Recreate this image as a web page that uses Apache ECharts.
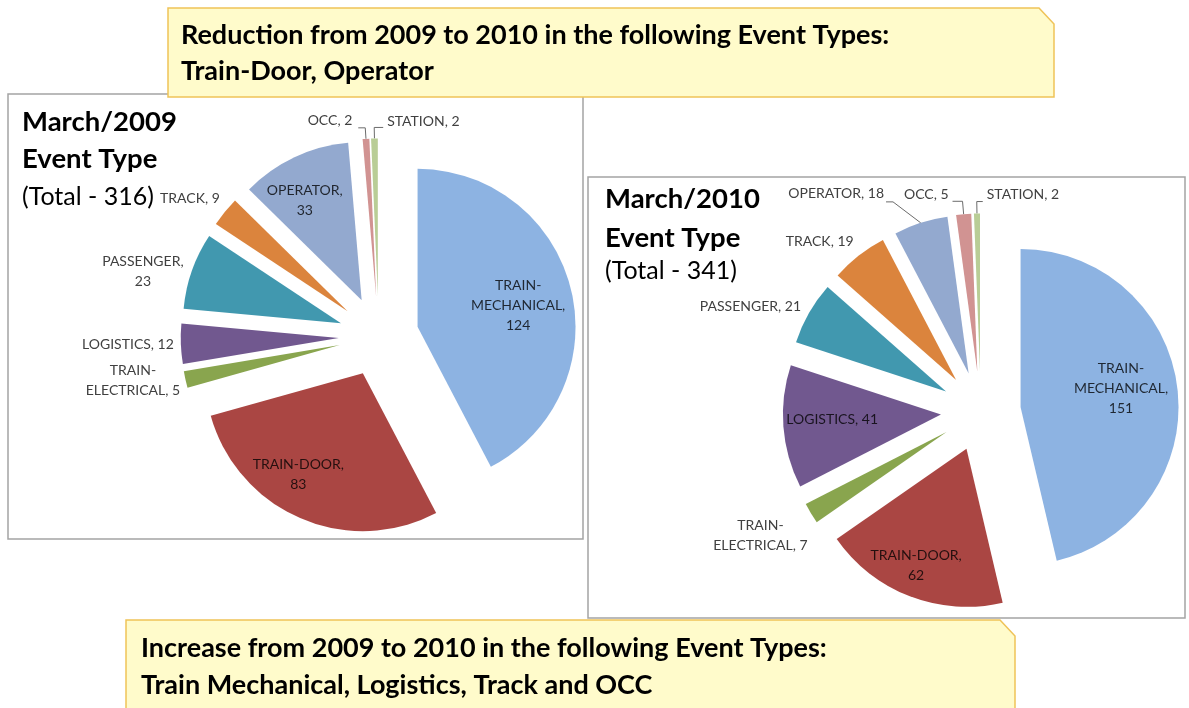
<!DOCTYPE html>
<html><head><meta charset="utf-8">
<script src="https://cdn.jsdelivr.net/npm/echarts@6/dist/echarts.min.js"></script>
<style>html,body{margin:0;padding:0;background:#fff}#chart{width:1189px;height:708px}</style>
</head><body><div id="chart"></div>
<script>
// ---------------- data ----------------
const categories = ['TRAIN-MECHANICAL','TRAIN-DOOR','TRAIN-ELECTRICAL','LOGISTICS','PASSENGER','TRACK','OPERATOR','OCC','STATION'];
const values2009 = [124, 83, 5, 12, 23, 9, 33, 2, 2];
const values2010 = [151, 62, 7, 41, 21, 19, 18, 5, 2];
const chartTitles = ['March/2009', 'March/2010'];
const chartSubtitle = 'Event Type';
const chartTotals = [316, 341];
const noteReduction = ['Reduction from 2009 to 2010 in the following Event Types:', 'Train-Door, Operator'];
const noteIncrease = ['Increase from 2009 to 2010 in the following Event Types:', 'Train Mechanical, Logistics, Track and OCC'];

// ---------------- styles ----------------
const colors = ['#8DB3E2','#AA4643','#89A54E','#71588F','#4198AF','#DB843D','#93A9CF','#D19392','#B9CD96'];
const LABEL_FONT = 'Lato';
const LABEL_SIZE = 14;
const LABEL_LH = 20;

// label placement style per slice: pos in/out, line break mode, leader line [len,len2], nudge [dx,dy]
const labelCfg2009 = [
  {pos:'in',  brk:'both',   nudge:[21,-2]},
  {pos:'in',  brk:'value',  nudge:[-32,26]},
  {pos:'out', brk:'hyphen', nudge:[0,1]},
  {pos:'out', brk:'none',   nudge:[-2,1]},
  {pos:'out', brk:'value',  nudge:[-3,1]},
  {pos:'out', brk:'none',   nudge:[0,-13]},
  {pos:'in',  brk:'value',  nudge:[-22,-26]},
  {pos:'out', brk:'none',   line:[11,7], nudge:[-1,-7]},
  {pos:'out', brk:'none',   line:[11,9], flip:true, nudge:[-1,-6]}
];
const labelCfg2010 = [
  {pos:'in',  brk:'both',   nudge:[19,-9]},
  {pos:'in',  brk:'value',  nudge:[-21,40]},
  {pos:'out', brk:'hyphen', nudge:[2,22]},
  {pos:'in',  brk:'none',   nudge:[-27,-1]},
  {pos:'out', brk:'none',   nudge:[-3,-7]},
  {pos:'out', brk:'none',   nudge:[0,-14]},
  {pos:'out', brk:'none',   line:[22,28], diag:7, nudge:[3,-8]},
  {pos:'out', brk:'none',   line:[13,10], nudge:[1,-7]},
  {pos:'out', brk:'none',   line:[12,6], flip:true, nudge:[-1,-7]}
];

const measureCtx = document.createElement('canvas').getContext('2d');
function textWidth(s, font) { measureCtx.font = font; return Math.ceil(measureCtx.measureText(s).width); }

function labelText(name, value, brk) {
  let head = name, sep = ' ';
  if (brk === 'hyphen' || brk === 'both') head = name.replace('-', '-\n');
  if (brk === 'value' || brk === 'both') sep = '\n';
  return head + ',' + sep + value;
}

function layoutLabel(p, cfg) {
  const r = p.labelRect;
  const ax = p.align === 'right' ? r.x + r.width : (p.align === 'center' ? r.x + r.width / 2 : r.x);
  const ay = p.verticalAlign === 'top' ? r.y : (p.verticalAlign === 'bottom' ? r.y + r.height : r.y + r.height / 2);
  const out = { x: ax + cfg.nudge[0], y: ay + cfg.nudge[1] };
  if (cfg.line && p.labelLinePoints) {
    const pts = p.labelLinePoints.map(q => q.slice());
    const n = pts.length;
    if (cfg.flip) {
      pts[n - 1][0] = 2 * pts[n - 2][0] - pts[n - 1][0];
      out.x = pts[n - 1][0] + 5 + cfg.nudge[0];
      out.align = 'left';
    }
    if (cfg.diag) {
      pts[n - 2][0] = pts[n - 1][0] + cfg.diag;
    }
    out.labelLinePoints = pts;
  }
  return out;
}

function buildPieSeries(values, cfgs, center, radius, explode) {
  const total = values.reduce((a, b) => a + b, 0);
  let acc = 0;
  return values.map((v, i) => {
    const mid = (acc + v / 2) / total * 2 * Math.PI;
    acc += v;
    const c = [center[0] + explode * Math.sin(mid), center[1] - explode * Math.cos(mid)];
    const cfg = cfgs[i];
    const txt = labelText(categories[i], v, cfg.brk);
    const lines = txt.split('\n');
    const font = LABEL_SIZE + 'px ' + LABEL_FONT;
    const useRich = cfg.pos === 'out' && lines.length > 1;
    const w = Math.max.apply(null, lines.map(l => textWidth(l, font)));
    const label = {
      show: true,
      position: cfg.pos === 'in' ? 'inside' : 'outside',
      color: cfg.pos === 'in' ? 'rgba(0,0,0,0.78)' : '#404040',
      fontFamily: LABEL_FONT, fontSize: LABEL_SIZE, lineHeight: LABEL_LH,
      textBorderWidth: 0,
      formatter: useRich ? lines.map(l => '{c|' + l + '}').join('\n') : txt
    };
    if (useRich) label.rich = { c: { width: w, align: 'center', color: '#404040', fontFamily: LABEL_FONT, fontSize: LABEL_SIZE, lineHeight: LABEL_LH } };
    const item = {
      name: categories[i], value: v,
      itemStyle: { color: colors[i], borderWidth: 0 },
      label: label,
      labelLine: cfg.line
        ? { show: true, length: cfg.line[0], length2: cfg.line[1], smooth: false, lineStyle: { color: '#6b6b6b', width: 1 } }
        : { show: false, length: 0, length2: 0 }
    };
    return {
      type: 'pie', center: c, radius: radius, startAngle: 90, clockwise: true,
      avoidLabelOverlap: false, silent: true, animation: false, z: 5,
      emphasis: { disabled: true },
      itemStyle: { borderWidth: 0 },
      data: values.map((vv, j) => j === i ? item : {
        name: categories[j], value: vv,
        itemStyle: { color: 'rgba(0,0,0,0)', borderWidth: 0 },
        label: { show: false }, labelLine: { show: false }
      }),
      labelLayout: p => layoutLabel(p, cfg)
    };
  });
}

const series = [].concat(
  buildPieSeries(values2009, labelCfg2009, [378.7, 336.4], 158, 40),
  buildPieSeries(values2010, labelCfg2010, [980.8, 411.5], 158, 40)
);

function txt(text, x, y, size, bold) {
  return { type: 'text', x: x, y: y, z: 120,
    style: { text: text, fill: '#000', font: (bold ? 'bold ' : '') + size + 'px Lato', align: 'left', verticalAlign: 'middle' } };
}

const graphic = [
  { type: 'rect', z: 0, shape: { x: 8, y: 94, width: 575, height: 445 }, style: { fill: '#fff', stroke: '#a4a4a4', lineWidth: 1.5 } },
  { type: 'rect', z: 0, shape: { x: 588, y: 177, width: 597, height: 441 }, style: { fill: '#fff', stroke: '#a4a4a4', lineWidth: 1.5 } },
  { type: 'polygon', z: 100, shape: { points: [[168, 8], [1039, 8], [1054, 24], [1054, 97], [168, 97]] }, style: { fill: '#FFFBCB', stroke: '#EFC358', lineWidth: 1.5 } },
  { type: 'polygon', z: 100, shape: { points: [[126, 620], [1000, 620], [1015, 636], [1015, 720], [126, 720]] }, style: { fill: '#FFFBCB', stroke: '#EFC358', lineWidth: 1.5 } },
  txt(noteReduction[0], 181, 35, 27, true),
  txt(noteReduction[1], 181, 71, 27, true),
  txt(noteIncrease[0], 141, 648, 27, true),
  txt(noteIncrease[1], 141, 685, 27, true),
  txt(chartTitles[0], 22, 122, 27.5, true),
  txt(chartSubtitle, 22, 159, 27.5, true),
  txt('(Total - ' + chartTotals[0] + ')', 22, 197, 25, false),
  txt(chartTitles[1], 605, 199, 27.5, true),
  txt(chartSubtitle, 605, 238, 27.5, true),
  txt('(Total - ' + chartTotals[1] + ')', 605, 271, 25, false)
];

const chart = echarts.init(document.getElementById('chart'), null, { renderer: 'canvas' });
chart.setOption({ animation: false, backgroundColor: '#fff', series: series, graphic: graphic });
</script></body></html>
